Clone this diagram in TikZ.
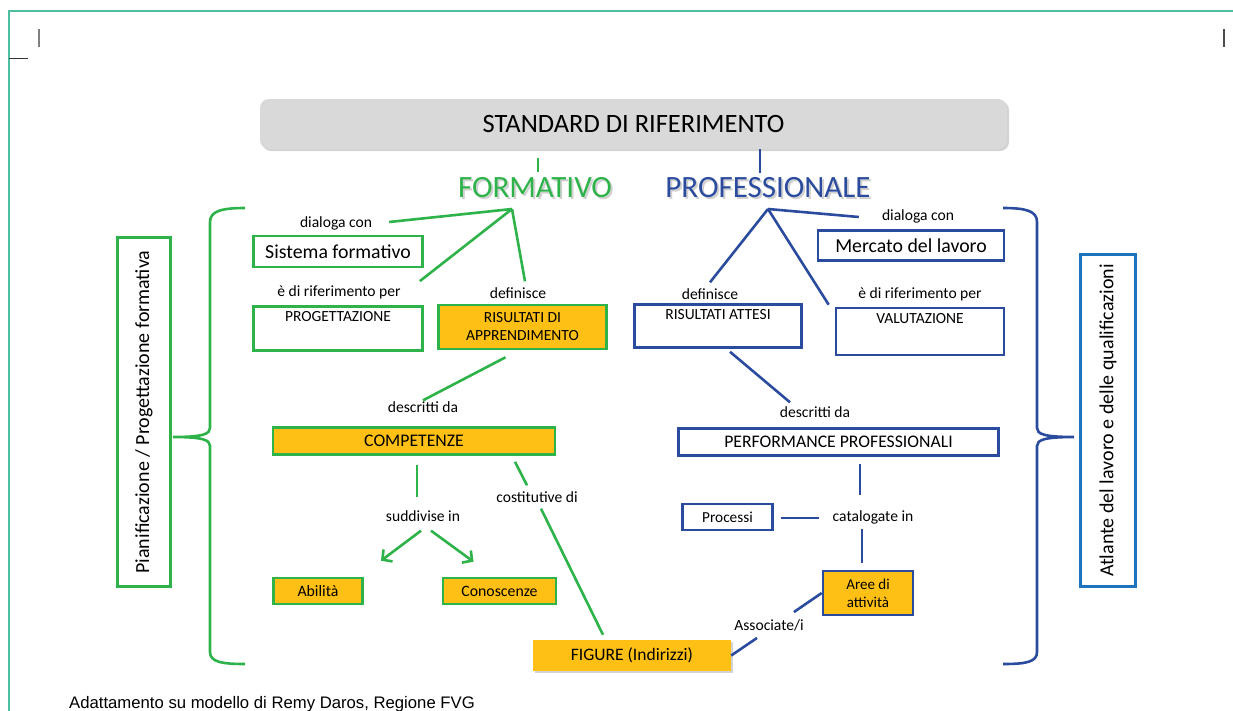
\documentclass[tikz,border=0pt]{standalone}
\usepackage{fontspec}
\setmainfont{Carlito}
\newfontfamily\arialfont{Liberation Sans}
\usepackage{xcolor}
\usetikzlibrary{calc,shadows,arrows.meta}

\definecolor{fgreen}{HTML}{2DB34A}
\definecolor{pblue}{HTML}{2B4C9E}
\definecolor{gold}{HTML}{FFC015}
\definecolor{frameteal}{HTML}{4BBF9F}
\definecolor{atlblue}{HTML}{1C75BC}
\definecolor{titlegray}{HTML}{D9D9D9}
\newcommand{\sz}[2]{\fontsize{#1}{#2}\selectfont}

\begin{document}
\begin{tikzpicture}[x=1pt, y=-1pt,
    gline/.style={fgreen, line width=2.6pt},
    bline/.style={pblue, line width=2.6pt},
    gbox/.style={draw=fgreen, line width=2.6pt, inner sep=2pt},
    bbox/.style={draw=pblue, line width=2.6pt, inner sep=2pt},
    lbl/.style={font=\sz{15.6}{18}, inner sep=1pt},
    toptext/.style={text height=11pt, text depth=#1, inner ysep=4pt},
    soft/.style={drop shadow={shadow xshift=2pt, shadow yshift=-2pt, opacity=.35}}]
    \useasboundingbox (0,0) rectangle (1233,710);

    % Cornice
    \draw[frameteal, line width=2pt] (9,712) -- (9,11) -- (1235,11);
    \draw[gray, line width=1.2pt] (39,29) -- (39,47);
    \draw[black!80, line width=1pt] (9,58) -- (28,58);
    \draw[black!70, line width=1.2pt] (1224,29) -- (1224,47);

    % Titolo
    \node[fill=titlegray, rounded corners=9pt, minimum width=747pt, minimum height=50pt,
          soft, font=\sz{26.5}{30}] (std) at (633.5,124) {STANDARD DI RIFERIMENTO};
    \node[font=\sz{31}{35}, text=black!30, opacity=.6] at (537,190) {FORMATIVO};
    \node[font=\sz{31}{35}, text=fgreen] (form) at (535,188) {FORMATIVO};
    \node[font=\sz{31}{35}, text=black!30, opacity=.6] at (770,190) {PROFESSIONALE};
    \node[font=\sz{31}{35}, text=pblue] (prof) at (768,188) {PROFESSIONALE};
    \draw[gline] ($(std.south)+(-95.5,9)$) -- ++(0,14);
    \draw[bline] ($(std.south)+(126.5,0)$) -- ++(0,24);
    \coordinate (gtop) at (512,209);
    \coordinate (btop) at (768,209);

    % Etichette
    \node[lbl] (dlgf) at (336,223) {dialoga con};
    \node[lbl] (riff) at (339,292) {è di riferimento per};
    \node[lbl] (deff) at (518,293) {definisce};
    \node[lbl] (descf) at (423,407) {descritti da};
    \node[lbl] (sudd) at (423,516) {suddivise in};
    \node[lbl] (cost) at (537,497) {costitutive di};
    \node[lbl] (dlgp) at (918,216) {dialoga con};
    \node[lbl] (defp) at (710,294) {definisce};
    \node[lbl] (rifp) at (920,294) {è di riferimento per};
    \node[lbl] (descp) at (815,412) {descritti da};
    \node[lbl] (catal) at (873,517) {catalogate in};
    \node[lbl] (assoc) at (769,625) {Associate/i};

    % Lato formativo
    \node[gbox, minimum width=169pt, minimum height=31pt, font=\sz{19.8}{22}] (sisf) at (338,251.5) {Sistema formativo};
    \node[gbox, minimum width=169pt, toptext=25pt, font=\sz{15.5}{18}] (prog) at (338,328.5) {PROGETTAZIONE};
    \node[gbox, fill=gold, minimum width=168pt, minimum height=44pt, align=center,
          font=\sz{15.5}{18}] (risapp) at (522.5,327) {RISULTATI DI\\APPRENDIMENTO};
    \node[gbox, fill=gold, minimum width=282pt, minimum height=27pt, font=\sz{17.7}{20}] (comp) at (414,441) {COMPETENZE};
    \node[gbox, fill=gold, minimum width=89pt, minimum height=26pt, font=\sz{15.8}{18}] (abil) at (318,591) {Abilità};
    \node[gbox, fill=gold, minimum width=113pt, minimum height=26pt, font=\sz{15.8}{18}] (cono) at (499.5,591) {Conoscenze};
    \node[fill=gold, soft, minimum width=198pt, minimum height=31pt, font=\sz{17.5}{20}] (fig) at (632,655.5) {FIGURE (Indirizzi)};
    \node[gbox, rotate=90, minimum width=349pt, minimum height=53pt, font=\sz{20}{22}] (pianif) at (144,412) {Pianificazione / Progettazione formativa};

    % Lato professionale
    \node[bbox, minimum width=186pt, minimum height=30pt, font=\sz{19.8}{22}] (merc) at (911,245.5) {Mercato del lavoro};
    \node[bbox, minimum width=167pt, toptext=24pt, font=\sz{15.5}{18}] (risatt) at (718,326) {RISULTATI ATTESI};
    \node[bbox, minimum width=168pt, toptext=28pt, font=\sz{15.5}{18}] (valut) at (920,331.5) {VALUTAZIONE};
    \node[bbox, minimum width=320pt, minimum height=27pt, font=\sz{17.7}{20}] (perf) at (838.5,442) {PERFORMANCE PROFESSIONALI};
    \node[bbox, minimum width=90pt, minimum height=26pt, font=\sz{15.3}{18}] (proc) at (727.5,517) {Processi};
    \node[bbox, fill=gold, minimum width=90pt, minimum height=44pt, align=center,
          font=\sz{15}{18}] (aree) at (868,593) {Aree di\\attività};
    \node[draw=atlblue, line width=2.6pt, rotate=90, minimum width=332pt, minimum height=55pt,
          font=\sz{20}{22}] (atl) at (1108,420.5) {Atlante del lavoro e delle qualificazioni};

    % Collegamenti verdi
    \draw[gline] (gtop) -- ($(dlgf.east)+(16,-1)$);
    \draw[gline] (gtop) -- ($(riff.north east)+(18,-3)$);
    \draw[gline] (gtop) -- ($(deff.north)+(7,-5)$);
    \draw[gline] ($(risapp.south)+(-17,7)$) -- (descf.north);
    \draw[gline] ($(comp.south)+(3,9)$) -- ($(sudd.north)+(-6,-12)$);
    \draw[gline, -{Straight Barb[length=7pt, width=15pt]}] ($(sudd.south)+(-2,8)$) -- ($(abil.north)+(63,-16)$);
    \draw[gline, -{Straight Barb[length=7pt, width=15pt]}] ($(sudd.south)+(8,8)$) -- ($(cono.north)+(-26,-15)$);
    \draw[gline] ($(comp.south)+(101,6)$) -- ($(cost.north)+(-10,-5)$);
    \draw[gline] ($(cost.south)+(4,5)$) -- ($(fig.north)+(-29,-5)$);

    % Collegamenti blu
    \draw[bline] (btop) -- ($(dlgp.west)+(-22,1)$);
    \draw[bline] (btop) -- ($(defp.north)+(0,-5)$);
    \draw[bline] (btop) -- ($(valut.north west)+(-6,-2)$);
    \draw[bline] ($(risatt.south)+(12,3)$) -- ($(descp.north)+(-25,-3)$);
    \draw[bline] ($(perf.south)+(21.5,7)$) -- ($(catal.north)+(-13,-14)$);
    \draw[bline] ($(catal.south)+(-11,4)$) -- ($(aree.north)+(-6,-7)$);
    \draw[bline] ($(proc.east)+(7,1)$) -- ($(catal.west)+(-13,1)$);
    \draw[bline] (aree.west) -- ($(assoc.north east)+(-11,-6)$);
    \draw[bline] ($(assoc.south)+(-12,6)$) -- (fig.east);

    % Parentesi
    \draw[gline] (245,208) .. controls (222,208) and (210,211) .. (210,222) -- (210,428)
        .. controls (210,434) and (203,437) .. (173,437)
        .. controls (203,437) and (210,440) .. (210,446) -- (210,652)
        .. controls (210,662) and (222,664) .. (245,664);
    \draw[bline] (1003,208) .. controls (1026,208) and (1037,211) .. (1037,222) -- (1037,428)
        .. controls (1037,434) and (1044,437) .. (1074,437)
        .. controls (1044,437) and (1037,440) .. (1037,446) -- (1037,652)
        .. controls (1037,662) and (1026,664) .. (1003,664);

    % Fonte
    \node[anchor=base west, inner sep=0pt, font=\arialfont\sz{16.7}{19}] (fonte) at (69,708)
        {Adattamento su modello di Remy Daros, Regione FVG};
\end{tikzpicture}
\end{document}
